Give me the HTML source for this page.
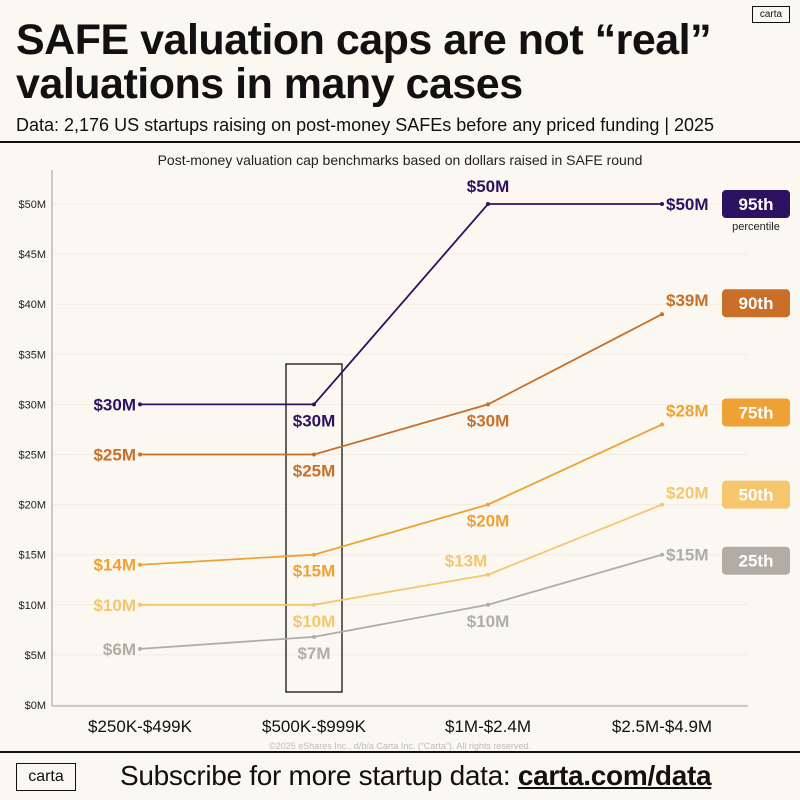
<!DOCTYPE html>
<html><head><meta charset="utf-8"><style>
body{margin:0;background:#fbf8f2;width:800px;height:800px;overflow:hidden;font-family:"Liberation Sans",sans-serif;color:#111;position:relative}
.t{position:absolute;left:16px;font-weight:bold;font-size:43px;letter-spacing:-0.5px;white-space:nowrap}
</style></head><body>
<div class="t" style="top:16px">SAFE valuation caps are not “real”</div>
<div class="t" style="top:60px">valuations in many cases</div>
<div style="position:absolute;left:16px;top:115px;font-size:18px;white-space:nowrap">Data: 2,176 US startups raising on post-money SAFEs before any priced funding | 2025</div>
<div style="position:absolute;left:0;top:141px;width:800px;height:2px;background:#111"></div>
<div style="position:absolute;left:752px;top:6px;width:36px;height:15px;border:1px solid #111;font-size:10px;text-align:center;line-height:15px">carta</div>
<svg id="c" width="800" height="800" style="position:absolute;left:0;top:0"></svg>
<div style="position:absolute;left:0;top:751px;width:800px;height:2px;background:#111"></div>
<div style="position:absolute;left:16px;top:763px;width:58px;height:26px;border:1.5px solid #111;font-size:16px;text-align:center;line-height:26px">carta</div>
<div style="position:absolute;left:120px;top:760px;font-size:28px;letter-spacing:-0.3px;white-space:nowrap">Subscribe for more startup data: <b style="text-decoration:underline">carta.com/data</b></div>
<script>
const categories=["$250K-$499K","$500K-$999K","$1M-$2.4M","$2.5M-$4.9M"];
const yTicks=[0,5,10,15,20,25,30,35,40,45,50];
const seriesNames=["95th","90th","75th","50th","25th"];
const p95=[30,30,50,50];
const p90=[25,25,30,39];
const p75=[14,15,20,28];
const p50=[10,10,13,20];
const p25=[5.6,6.8,10,15];
const labels95=["$30M","$30M","$50M","$50M"];
const labels90=["$25M","$25M","$30M","$39M"];
const labels75=["$14M","$15M","$20M","$28M"];
const labels50=["$10M","$10M","$13M","$20M"];
const labels25=["$6M","$7M","$10M","$15M"];
const colors=["#2e1262","#c96f28","#f0a135","#f5c66e","#b1ada5"];
const pillDy=[0,-11,-12,-10,6];
const lastDy=[6,-8,-8,-6,6];
const svg=document.getElementById('c');const NS="http://www.w3.org/2000/svg";
const X=i=>140+i*174, Y=v=>705-v*10.02;
function mk(t,a,p){const e=document.createElementNS(NS,t);for(const k in a)e.setAttribute(k,a[k]);(p||svg).appendChild(e);return e;}
let st=mk('text',{x:400,y:165,'text-anchor':'middle','font-size':14,fill:'#222'});st.textContent="Post-money valuation cap benchmarks based on dollars raised in SAFE round";


yTicks.forEach(v=>{
 const g=mk('line',{x1:53,x2:748,y1:Y(v),y2:Y(v),stroke:'#f1ece3','stroke-width':1});
 
 
 const t=mk('text',{x:46,y:Y(v)+4,'text-anchor':'end','font-size':11,fill:'#222'});t.textContent='$'+v+'M';
 
 
});
let ax=mk('line',{x1:52,x2:52,y1:170,y2:706,stroke:'#bbb','stroke-width':1.5});


let bx=mk('line',{x1:52,x2:748,y1:706,y2:706,stroke:'#bbb','stroke-width':1.5});


categories.forEach((c,i)=>{const t=mk('text',{x:X(i),y:732,'text-anchor':'middle','font-size':17,fill:'#111'});t.textContent=c;
 
 });
let hb=mk('rect',{x:286,y:364,width:56,height:328,fill:'none',stroke:'#111','stroke-width':1.3});


const all=[p95,p90,p75,p50,p25], labs=[labels95,labels90,labels75,labels50,labels25];
const mode3=['above','below','below','aboveleft','below'];
all.forEach((d,s)=>{
 const col=colors[s];
 const pl=mk('polyline',{points:d.map((v,i)=>X(i)+','+Y(v)).join(' '),fill:'none',stroke:col,'stroke-width':1.8});
 
 
 d.forEach((v,i)=>{
  const c=mk('circle',{cx:X(i),cy:Y(v),r:2,fill:col});
  
  
  let x=X(i),y=Y(v),a='middle';
  if(i==0){x-=4;y+=6;a='end';}
  else if(i==3){x+=4;y+=lastDy[s];a='start';}
  else if(i==1){y+=22;}
  else{const m=mode3[s];if(m=='above')y-=12;else if(m=='below')y+=22;else{x-=22;y-=8;}}
  const t=mk('text',{x:x,y:y,'text-anchor':a,'font-size':17,'font-weight':'bold',fill:col});t.textContent=labs[s][i];
  
  
 });
 const ly=Y(d[3])-14+pillDy[s];
 const r=mk('rect',{x:722,y:ly,width:68,height:28,rx:4,fill:col});
 
 
 const t=mk('text',{x:756,y:ly+20,'text-anchor':'middle','font-size':17,'font-weight':'bold',fill:'#fff'});t.textContent=seriesNames[s];
 
 
});
let pc=mk('text',{x:756,y:230,'text-anchor':'middle','font-size':11,fill:'#222'});pc.textContent="percentile";


let cp=mk('text',{x:400,y:749,'text-anchor':'middle','font-size':9,fill:'#bbb'});cp.textContent="©2025 eShares Inc., d/b/a Carta Inc. (“Carta”). All rights reserved.";


</script>
</body></html>
